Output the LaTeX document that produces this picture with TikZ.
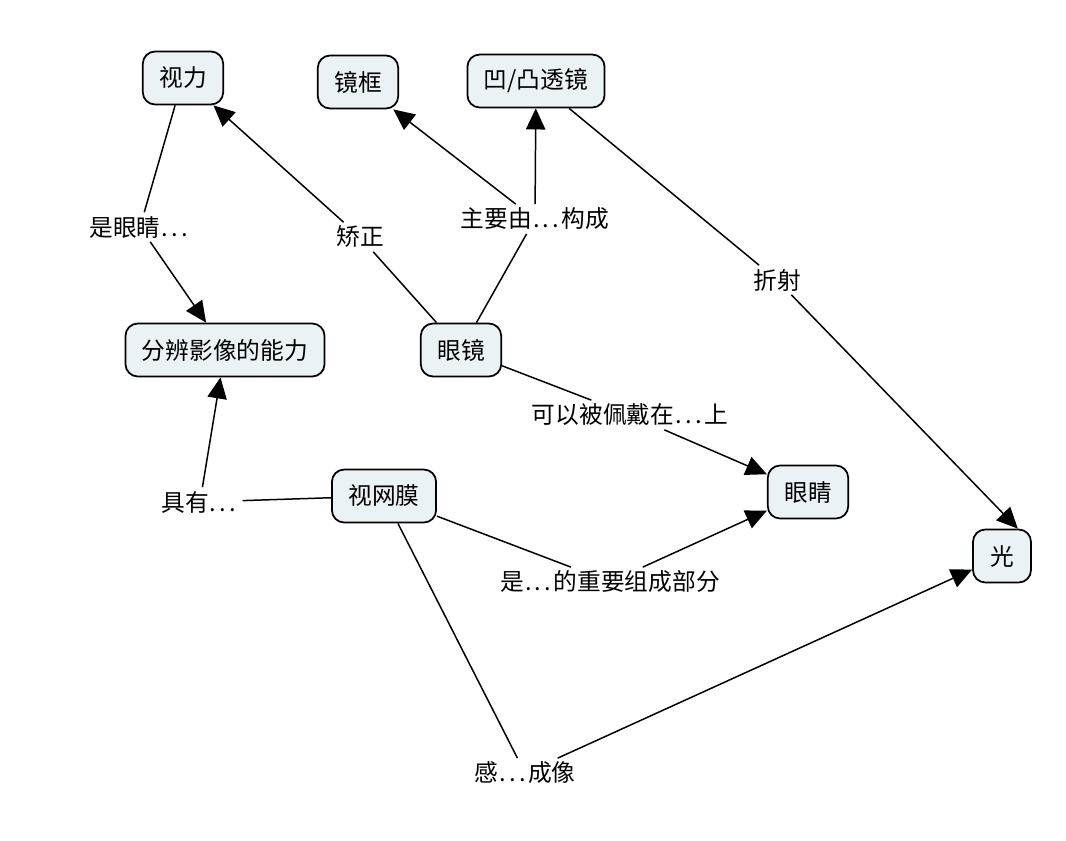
\documentclass[tikz,border=0pt]{standalone}
\usepackage{fontspec}
\setmainfont{Noto Sans CJK SC}
\usetikzlibrary{arrows.meta}
\definecolor{clrfill}{RGB}{235,242,245}
\newcommand{\ldts}{\kern0.05em.\kern0.14em.\kern0.14em.\kern0.1em}

\begin{document}
\begin{tikzpicture}[
    x=0.02cm, y=-0.02cm,
    font=\fontsize{13.5}{16}\selectfont,
    concept/.style={draw=black, fill=clrfill, rounded corners=7pt,
                    line width=1pt, minimum height=1.06cm,
                    inner xsep=0.33cm, inner ysep=3pt},
    link/.style={inner sep=2pt},
    arr/.style={-{Triangle[length=12pt,width=11pt]}, line width=0.85pt},
    ln/.style={line width=0.85pt},
  ]
    \useasboundingbox (0,0) rectangle (1066,840);

    % concepts
    \node[concept] (shili)   at (183,78)  {视力};
    \node[concept] (jingkuang) at (358,82) {镜框};
    \node[concept] (toujing) at (536,81)  {凹/凸透镜};
    \node[concept] (fenbian) at (225,350) {分辨影像的能力};
    \node[concept] (yanjing)  at (461,350) {眼镜};
    \node[concept] (eye)     at (808,492) {眼睛};
    \node[concept] (retina)  at (384,496) {视网膜};
    \node[concept, minimum width=1.16cm] (light) at (1002,556) {光};

    % linking phrases
    \node[link] (l1) at (140,227) {是眼睛\ldts};
    \node[link] (l2) at (360,237) {矫正};
    \node[link] (l3) at (535,219) {主要由\ldts 构成};
    \node[link] (l4) at (777,280) {折射};
    \node[link] (l5) at (630,415) {可以被佩戴在\ldts 上};
    \node[link] (l6) at (200,502) {具有\ldts};
    \node[link] (l7) at (610,582) {是\ldts 的重要组成部分};
    \node[link] (l8) at (525,773) {感\ldts 成像};

    \draw[ln]  (shili)   -- (l1);
    \draw[arr] (l1)      -- (fenbian);
    \draw[ln]  (yanjing) -- (l2);
    \draw[arr] (l2)      -- (shili);
    \draw[ln]  (yanjing) -- (l3);
    \draw[arr] (l3)      -- (jingkuang);
    \draw[arr] (l3)      -- (toujing);
    \draw[ln]  (toujing) -- (l4);
    \draw[arr] (l4)      -- (light.60);
    \draw[ln]  (yanjing) -- (l5);
    \draw[arr] (l5)      -- (eye);
    \draw[ln]  (retina)  -- (l6);
    \draw[arr] (l6)      -- (fenbian);
    \draw[ln]  (retina)  -- (l7);
    \draw[arr] (l7)      -- (eye);
    \draw[ln]  (retina)  -- (l8);
    \draw[arr] (l8)      -- (light);
  \end{tikzpicture}
\end{document}
